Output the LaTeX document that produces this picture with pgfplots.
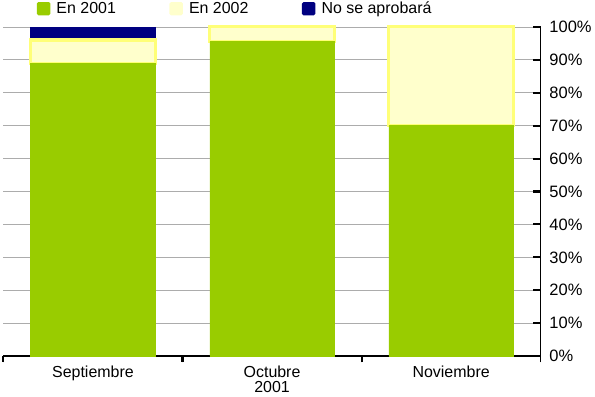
\documentclass[border=0pt]{standalone}
\usepackage{pgfplots}
\pgfplotsset{compat=1.18}
\usepackage{fontspec}
\setmainfont{Liberation Sans}
\definecolor{verde}{RGB}{153,204,0}
\definecolor{amarillo}{RGB}{255,255,204}
\definecolor{borde}{RGB}{255,255,120}
\definecolor{azul}{RGB}{0,0,128}
\begin{document}
\begin{tikzpicture}
\begin{axis}[
    scale only axis,
    width=522pt, height=320pt,
    clip=false,
    ybar stacked,
    bar width=121pt,
    xmin=-0.5, xmax=2.5,
    ymin=0, ymax=100,
    axis x line*=bottom,
    axis y line*=right,
    axis line style={line width=1.6pt, black},
    every tick/.style={draw=black, line width=1.6pt},
    xtick={-0.5,0.5,1.5,2.5},
    xticklabels={},
    extra x ticks={0,1,2},
    extra x tick labels={Septiembre,{Octubre\\2001},Noviembre},
    extra x tick style={major tick length=0pt,
        tick label style={align=center, font=\fontsize{15.5}{15}\selectfont, yshift=-6pt}},
    ytick={0,10,...,100},
    yticklabels={0\%,10\%,20\%,30\%,40\%,50\%,60\%,70\%,80\%,90\%,100\%},
    y tick label style={font=\fontsize{16}{17}\selectfont, xshift=5pt},
    major tick length=6pt,
    xtick align=outside,
    ytick align=inside,
    ymajorgrids=true,
    major grid style={gray!65, line width=0.6pt},
    legend columns=3,
    legend style={at={(0.062,1.028)}, anchor=south west, draw=none, fill=none,
        font=\fontsize{15.5}{16}\selectfont, inner sep=0pt,
        /tikz/every odd column/.append style={column sep=4pt},
        /tikz/every even column/.append style={column sep=50pt}},
    legend image code/.code={\fill[#1, draw=none, rounded corners=1.5pt] (0pt,-6.5pt) rectangle (13pt,6.5pt);},
    legend cell align=left,
]
\addplot[fill=verde, draw=verde] coordinates {(0,89) (1,95.5) (2,70)};
\addlegendentry{En 2001}
\addplot[fill=amarillo, draw=borde, line width=3pt] coordinates {(0,7) (1,4.5) (2,30)};
\addlegendentry{En 2002}
\addplot[fill=azul, draw=azul] coordinates {(0,4) (1,0) (2,0)};
\addlegendentry{No se aprobará}
% tick marks on the right axis, pointing into the plot
\pgfplotsinvokeforeach{0,10,20,30,40,50,60,70,80,90,100}{
  \draw[black, line width=2pt] (axis cs:2.5,#1) -- ++(-7pt,0pt);
}
\pgfplotsinvokeforeach{-0.5,0.5,1.5}{
  \draw[black, line width=2pt] (axis cs:#1,0) -- ++(0pt,-6pt);
}
\end{axis}
\end{tikzpicture}
\end{document}
